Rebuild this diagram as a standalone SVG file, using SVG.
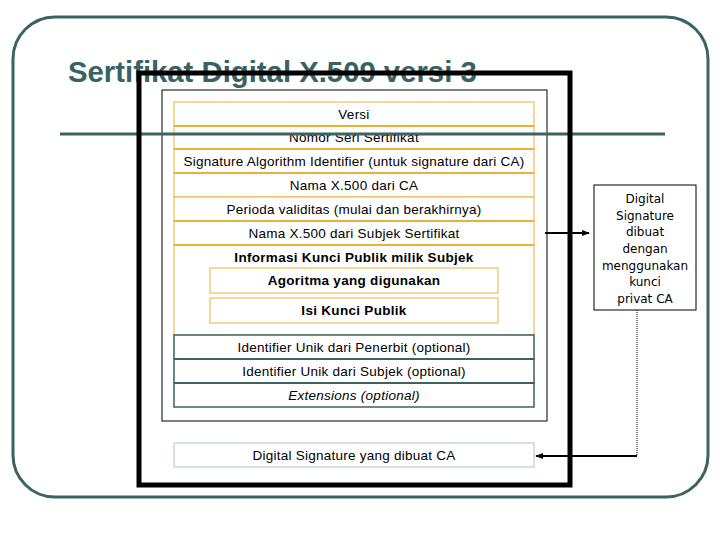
<svg xmlns="http://www.w3.org/2000/svg" width="720" height="540" viewBox="0 0 720 540">
<style>
.row{font-family:"Liberation Sans",Arial,sans-serif;font-size:13.5px;letter-spacing:0.25px;fill:#000;text-anchor:middle}
.b{font-weight:bold;letter-spacing:0.3px}
.y{fill:#fff;stroke:#e6b23a;stroke-width:1}
.ysep{stroke:#e6b23a;stroke-width:2.2}
.t{fill:#fff;stroke:#3d6262;stroke-width:1.5}
.tsep{stroke:#3d6262;stroke-width:2.2}
.side{font-family:"DejaVu Sans",Tahoma,sans-serif;font-size:12px;fill:#000;text-anchor:middle}
</style>
<defs>
<marker id="ah" viewBox="0 0 10 10" refX="9" refY="5" markerWidth="4" markerHeight="4" orient="auto" markerUnits="strokeWidth">
<path d="M0,1 L10,5 L0,9 z" fill="#000"/>
</marker>
</defs>
<rect width="720" height="540" fill="#fff"/>
<rect x="13" y="17" width="695" height="480" rx="42" ry="42" fill="none" stroke="#3d6262" stroke-width="3"/>
<text x="68" y="82" font-family="Liberation Sans,Arial,sans-serif" font-size="29.3" font-weight="bold" fill="#3a6262">Sertifikat Digital X.509 versi 3</text>

<rect id="inner" x="162" y="90" width="385" height="331" fill="#fff" stroke="#000" stroke-width="1"/>

<g id="versi"><rect class="y" x="174" y="102" width="360" height="24"/><text class="row" x="354" y="118.5">Versi</text></g>
<g id="nomor"><rect class="y" x="174" y="126" width="360" height="23"/><text class="row" x="354" y="142">Nomor Seri Sertifikat</text></g>
<g id="sigalg"><rect class="y" x="174" y="149" width="360" height="24"/><text class="row" x="354" y="165.5">Signature Algorithm Identifier (untuk signature dari CA)</text></g>
<g id="namaca"><rect class="y" x="174" y="173" width="360" height="24"/><text class="row" x="354" y="189.5">Nama X.500 dari CA</text></g>
<g id="perioda"><rect class="y" x="174" y="197" width="360" height="24"/><text class="row" x="354" y="213.5">Perioda validitas (mulai dan berakhirnya)</text></g>
<g id="namasubjek"><rect class="y" x="174" y="221" width="360" height="24"/><text class="row" x="354" y="237.5">Nama X.500 dari Subjek Sertifikat</text></g>
<g id="infokunci"><rect class="y" x="174" y="245" width="360" height="90"/><text class="row b" x="354" y="261.5">Informasi Kunci Publik milik Subjek</text>
<g id="agoritma"><rect class="y" x="210" y="268" width="288" height="25"/><text class="row b" x="354" y="285">Agoritma yang digunakan</text></g>
<g id="isikunci"><rect class="y" x="210" y="298" width="288" height="25"/><text class="row b" x="354" y="315">Isi Kunci Publik</text></g>
</g>
<g id="seps">
<line class="ysep" x1="174" y1="126" x2="534" y2="126"/>
<line class="ysep" x1="174" y1="149" x2="534" y2="149"/>
<line class="ysep" x1="174" y1="173" x2="534" y2="173"/>
<line class="ysep" x1="174" y1="221" x2="534" y2="221"/>
<line class="ysep" x1="174" y1="245" x2="534" y2="245"/>
</g>
<g id="penerbit"><rect class="t" x="174" y="335" width="360" height="24"/><text class="row" x="354" y="351.5">Identifier Unik dari Penerbit (optional)</text></g>
<g id="subjekid"><rect class="t" x="174" y="359" width="360" height="24"/><text class="row" x="354" y="375.5">Identifier Unik dari Subjek (optional)</text></g>
<g id="ext"><rect class="t" x="174" y="383" width="360" height="24"/><text class="row" x="354" y="399.5" font-style="italic">Extensions (optional)</text></g>
<line class="tsep" x1="174" y1="359" x2="534" y2="359"/>
<line class="tsep" x1="174" y1="383" x2="534" y2="383"/>

<g id="digsig"><rect x="174" y="443" width="360" height="24" fill="#fff" stroke="#b9cdd4" stroke-width="1.2"/><text class="row" x="354" y="459.5">Digital Signature yang dibuat CA</text></g>

<line x1="60" y1="134" x2="665" y2="134" stroke="#3d6262" stroke-width="3"/>

<rect id="cert" x="139" y="73" width="431" height="412" fill="none" stroke="#000" stroke-width="5"/>

<g id="note"><rect x="594" y="185" width="102" height="125" fill="#fff" stroke="#000" stroke-width="1"/>
<text class="side" x="645" y="203">Digital</text>
<text class="side" x="645" y="219.7">Signature</text>
<text class="side" x="645" y="236.3">dibuat</text>
<text class="side" x="645" y="253">dengan</text>
<text class="side" x="645" y="269.7">menggunakan</text>
<text class="side" x="645" y="286.3">kunci</text>
<text class="side" x="645" y="303">privat CA</text>
</g>

<g id="connectors" fill="none" stroke="#000">
<line x1="545" y1="233" x2="589" y2="233" stroke-width="2" marker-end="url(#ah)"/>
<line x1="637" y1="310" x2="637" y2="456" stroke-width="1" stroke-dasharray="1,1"/>
<line x1="637" y1="456" x2="536" y2="456" stroke-width="2" marker-end="url(#ah)"/>
</g>
</svg>
